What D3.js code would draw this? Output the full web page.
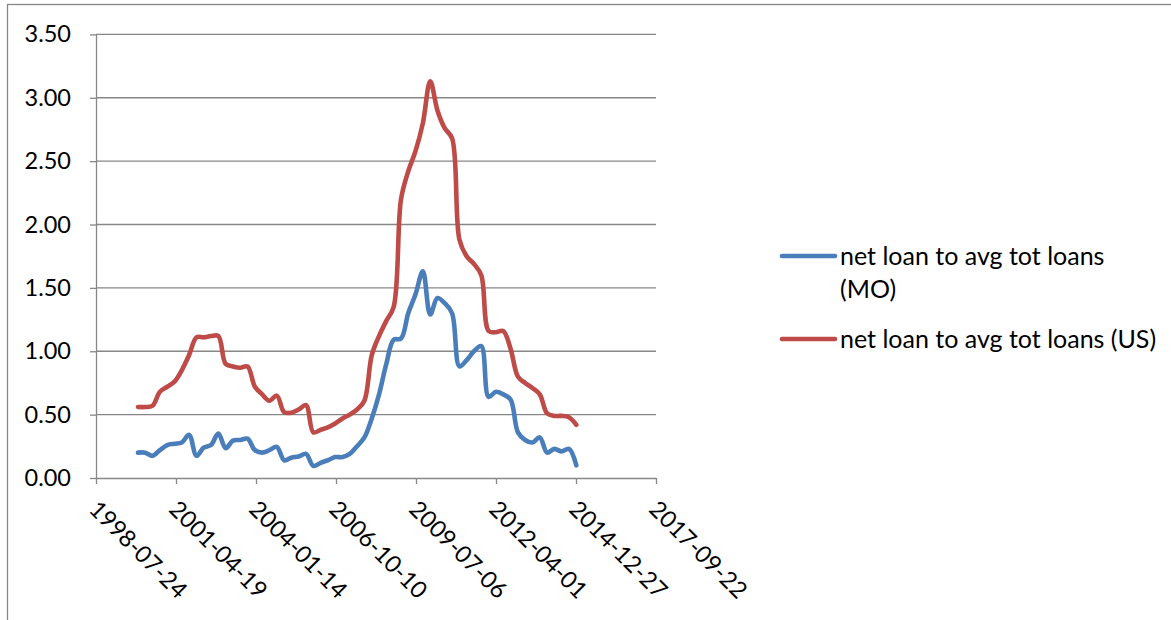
<!DOCTYPE html>
<html>
<head>
<meta charset="utf-8">
<script src="https://cdn.jsdelivr.net/npm/d3@7"></script>
<style>
  html, body { margin: 0; padding: 0; background: #fff; }
  svg { display: block; }
  text { font-family: Lato, "Open Sans", sans-serif; fill: #000; }
</style>
</head>
<body>
<svg id="chart" width="1171" height="620"></svg>
<script>
// Quarter-end observation dates
const dates = [
  "1999-12-31",
  "2000-03-31","2000-06-30","2000-09-30","2000-12-31",
  "2001-03-31","2001-06-30","2001-09-30","2001-12-31",
  "2002-03-31","2002-06-30","2002-09-30","2002-12-31",
  "2003-03-31","2003-06-30","2003-09-30","2003-12-31",
  "2004-03-31","2004-06-30","2004-09-30","2004-12-31",
  "2005-03-31","2005-06-30","2005-09-30","2005-12-31",
  "2006-03-31","2006-06-30","2006-09-30","2006-12-31",
  "2007-03-31","2007-06-30","2007-09-30","2007-12-31",
  "2008-03-31","2008-06-30","2008-09-30","2008-12-31",
  "2009-03-31","2009-06-30","2009-09-30","2009-12-31",
  "2010-03-31","2010-06-30","2010-09-30","2010-12-31",
  "2011-03-31","2011-06-30","2011-09-30","2011-12-31",
  "2012-03-31","2012-06-30","2012-09-30","2012-12-31",
  "2013-03-31","2013-06-30","2013-09-30","2013-12-31",
  "2014-03-31","2014-06-30","2014-09-30","2014-12-31"
];

// Net loan losses to average total loans, Missouri
const moValues = [
  0.20,
  0.20, 0.175, 0.22, 0.26,
  0.27, 0.28, 0.34, 0.175,
  0.24, 0.26, 0.35, 0.235,
  0.295, 0.30, 0.31, 0.22,
  0.20, 0.22, 0.245, 0.14,
  0.16, 0.17, 0.19, 0.095,
  0.12, 0.14, 0.165, 0.165,
  0.19, 0.25, 0.32, 0.47,
  0.66, 0.90, 1.09, 1.10,
  1.30, 1.45, 1.63, 1.29,
  1.42, 1.38, 1.30, 0.88,
  0.93, 1.00, 1.04, 0.64,
  0.68, 0.66, 0.62, 0.36,
  0.30, 0.28, 0.32, 0.20,
  0.23, 0.21, 0.23, 0.10
];

// Net loan losses to average total loans, United States
const usValues = [
  0.56,
  0.56, 0.57, 0.68, 0.72,
  0.76, 0.85, 0.97, 1.11,
  1.11, 1.12, 1.12, 0.90,
  0.88, 0.87, 0.88, 0.72,
  0.66, 0.61, 0.65, 0.52,
  0.515, 0.54, 0.575, 0.36,
  0.38, 0.40, 0.43, 0.47,
  0.50, 0.54, 0.61, 0.97,
  1.12, 1.24, 1.35, 2.20,
  2.42, 2.58, 2.80, 3.13,
  2.90, 2.76, 2.68, 1.88,
  1.75, 1.69, 1.60, 1.16,
  1.15, 1.16, 1.02, 0.80,
  0.75, 0.71, 0.66, 0.51,
  0.49, 0.49, 0.48, 0.42
];

const xTickLabels = ["1998-07-24","2001-04-19","2004-01-14","2006-10-10",
                     "2009-07-06","2012-04-01","2014-12-27","2017-09-22"];
const yTickValues = [0, 0.5, 1, 1.5, 2, 2.5, 3, 3.5];

const seriesColors = ["#4A7EBB", "#BE4B48"];

const parse = d3.utcParse("%Y-%m-%d");
const svg = d3.select("#chart");
const axisColor = "#878787";

// outer chart frame
svg.append("rect")
  .attr("x", 7.5).attr("y", 4.5)
  .attr("width", 1300).attr("height", 800)
  .attr("fill", "none").attr("stroke", axisColor).attr("stroke-width", 1.3);

const x = d3.scaleUtc()
  .domain([parse(xTickLabels[0]), parse(xTickLabels[xTickLabels.length - 1])])
  .range([96, 656]);
const y = d3.scaleLinear().domain([0, 3.5]).range([478, 34.4]);

// horizontal gridlines
svg.append("g").selectAll("line")
  .data(yTickValues.filter(v => v > 0))
  .join("line")
  .attr("x1", 96).attr("x2", 656)
  .attr("y1", d => y(d)).attr("y2", d => y(d))
  .attr("stroke", axisColor).attr("stroke-width", 1.3);

// y axis
const yAxis = svg.append("g")
  .attr("transform", "translate(96,0)")
  .call(d3.axisLeft(y).tickValues(yTickValues).tickFormat(d3.format(".2f"))
    .tickSize(6).tickSizeOuter(0).tickPadding(19));
yAxis.select(".domain").attr("stroke", axisColor).attr("stroke-width", 1.3);
yAxis.selectAll(".tick line").attr("stroke", axisColor).attr("stroke-width", 1.3);
yAxis.selectAll("text").attr("font-size", 23.5).attr("font-family", "Lato").attr("fill", "#000");

// x axis
const xAxis = svg.append("g")
  .attr("transform", "translate(0,478)")
  .call(d3.axisBottom(x).tickValues(xTickLabels.map(parse))
    .tickFormat(d3.utcFormat("%Y-%m-%d")).tickSize(6).tickSizeOuter(0));
xAxis.select(".domain").attr("stroke", axisColor).attr("stroke-width", 1.3);
xAxis.selectAll(".tick line").attr("stroke", axisColor).attr("stroke-width", 1.3);
xAxis.selectAll("text")
  .attr("font-size", 23.5).attr("font-family", "Lato").attr("fill", "#000")
  .attr("text-anchor", "start")
  .attr("x", 0).attr("y", 0).attr("dy", "0.7em")
  .attr("transform", "translate(3,21) rotate(45)");

// series lines
const line = d3.line()
  .x((d, i) => x(parse(dates[i])))
  .y(d => y(d))
  .curve(d3.curveCatmullRom.alpha(0.5));

[moValues, usValues].forEach((vals, k) => {
  svg.append("path")
    .datum(vals)
    .attr("d", line)
    .attr("fill", "none")
    .attr("stroke", seriesColors[k])
    .attr("stroke-width", 4.6)
    .attr("stroke-linejoin", "round")
    .attr("stroke-linecap", "round");
});

// legend
const legend = svg.append("g").attr("font-size", 25);
const legendRows = [
  { lineY: 256, lines: ["net loan to avg tot loans", "(MO)"] },
  { lineY: 339, lines: ["net loan to avg tot loans (US)"] }
];
legendRows.forEach((row, k) => {
  legend.append("line")
    .attr("x1", 782).attr("x2", 835)
    .attr("y1", row.lineY).attr("y2", row.lineY)
    .attr("stroke", seriesColors[k]).attr("stroke-width", 4.6)
    .attr("stroke-linecap", "round");
  row.lines.forEach((t, j) => {
    legend.append("text")
      .attr("x", 840).attr("y", row.lineY + j * 33)
      .attr("dy", "0.35em")
      .text(t);
  });
});
</script>
</body>
</html>
